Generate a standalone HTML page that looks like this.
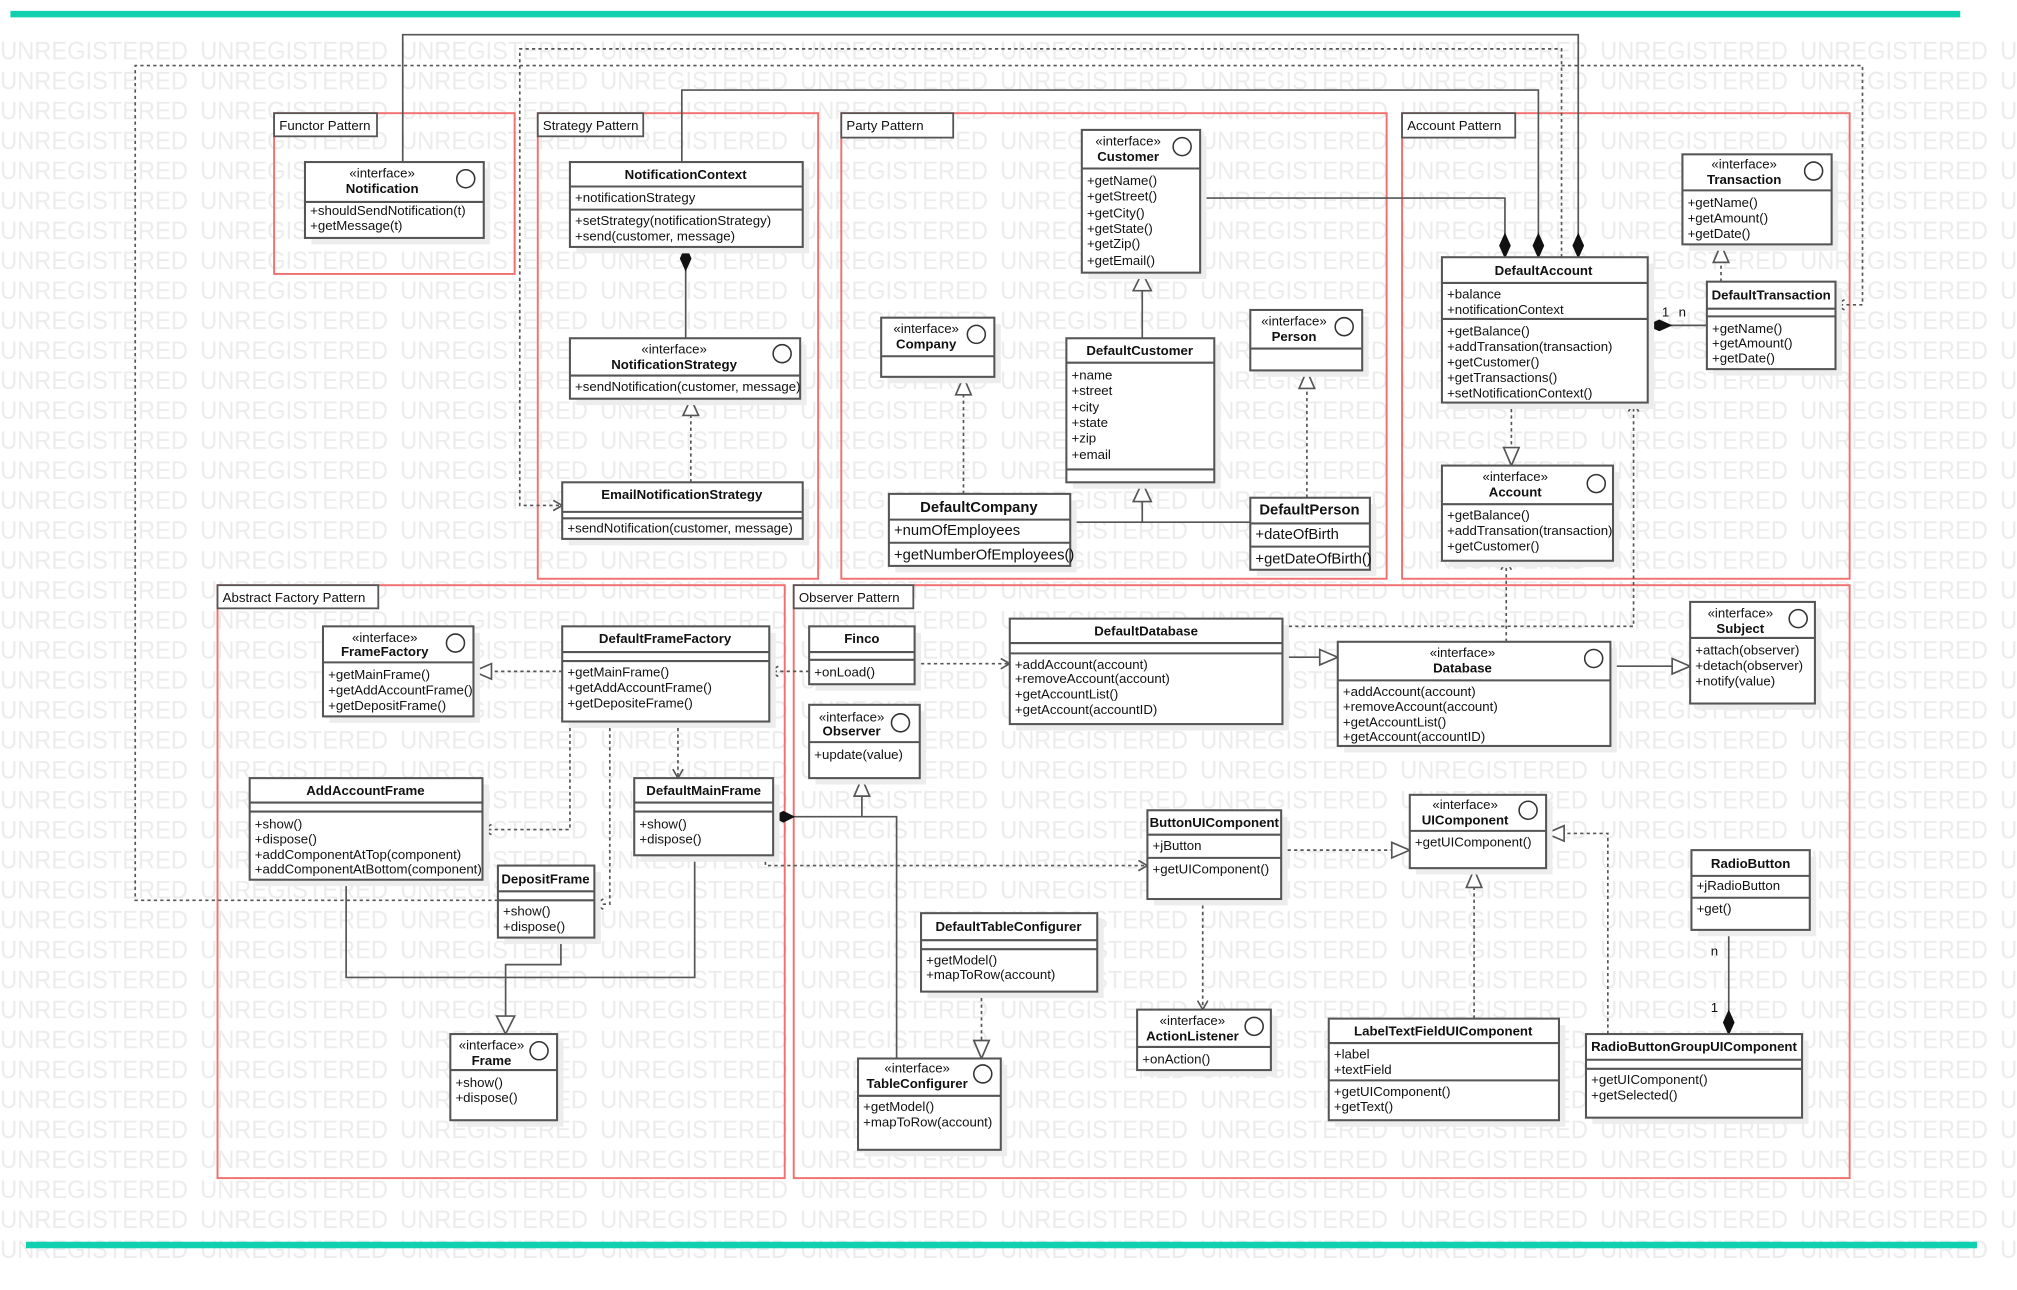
<!DOCTYPE html>
<html><head><meta charset="utf-8"><style>
html,body{margin:0;padding:0;background:#fff;}
svg{display:block;}
text{font-family:"Liberation Sans",sans-serif;font-size:10.3px;fill:#111;}
.b{font-weight:bold;}
.wm{font-size:19.5px;fill:#ececec;}
.box{fill:#fff;stroke:#555;stroke-width:1.6;}
.sh{fill:#ededed;}
.ln{stroke:#555;stroke-width:1.6;fill:none;}
.sl{stroke:#555;stroke-width:1.3;fill:none;}
.dl{stroke:#555;stroke-width:1.3;fill:none;stroke-dasharray:2.5,2.5;}
.fr{fill:none;stroke:#f07070;stroke-width:1.5;}
.lbl{fill:#fff;stroke:#555;stroke-width:1.4;}
.tri{fill:#fff;stroke:#555;stroke-width:1.3;}
.dia{fill:#111;stroke:#111;stroke-width:1;}
.circ{fill:#fff;stroke:#333;stroke-width:1.2;}
</style></head><body>
<svg width="2017" height="1290" viewBox="0 0 1568 1003" xmlns="http://www.w3.org/2000/svg">
<defs>
<pattern id="wm" x="0" y="24" width="155.5" height="23.3" patternUnits="userSpaceOnUse">
<text class="wm" x="0" y="22" textLength="146" lengthAdjust="spacingAndGlyphs">UNREGISTERED</text>
</pattern>
</defs>
<rect x="0" y="28" width="1568" height="952" fill="url(#wm)"/>
<line x1="8" y1="11" x2="1524" y2="11" stroke="#10d0b0" stroke-width="5"/>
<line x1="20" y1="968" x2="1537" y2="968" stroke="#10d0b0" stroke-width="5"/>

<!-- frames -->
<rect class="fr" x="213" y="88" width="187" height="125"/>
<rect class="lbl" x="213" y="88" width="80" height="18"/><text x="217" y="101">Functor Pattern</text>
<rect class="fr" x="418" y="88" width="218" height="362"/>
<rect class="lbl" x="418" y="88" width="82" height="18"/><text x="422" y="101">Strategy Pattern</text>
<rect class="fr" x="654" y="88" width="424" height="362"/>
<rect class="lbl" x="654" y="88" width="87" height="19"/><text x="658" y="101">Party Pattern</text>
<rect class="fr" x="1090" y="88" width="348" height="362"/>
<rect class="lbl" x="1090" y="88" width="88" height="19"/><text x="1094" y="101">Account Pattern</text>
<rect class="fr" x="169" y="455" width="441" height="461"/>
<rect class="lbl" x="169" y="455" width="125" height="18"/><text x="173" y="468">Abstract Factory Pattern</text>
<rect class="fr" x="617" y="455" width="821" height="461"/>
<rect class="lbl" x="617" y="455" width="93" height="18"/><text x="621" y="468">Observer Pattern</text>

<!-- connectors -->
<polyline class="sl" points="313,126 313,27 1227,27 1227,200"/>
<polyline class="sl" points="530,126 530,70 1196,70 1196,200"/>
<polyline class="sl" points="933,154 1170,154 1170,200"/>
<path class="dia" d="M1227,200 l-4,-9 l4,-9 l4,9z"/>
<path class="dia" d="M1196,200 l-4,-9 l4,-9 l4,9z"/>
<path class="dia" d="M1170,200 l-4,-9 l4,-9 l4,9z"/>
<polyline class="dl" points="1214,200 1214,38 404,38 404,393 437,393"/>
<path class="sl" d="M430,389 l7,4 l-7,4"/>
<polyline class="dl" points="387,700 105,700 105,51 1448,51 1448,237 1427,237"/>
<path class="sl" d="M1434,233 l-7,4 l7,4"/>
<line class="sl" x1="533" y1="192" x2="533" y2="263"/>
<path class="dia" d="M533,192 l-4,9 l4,9 l4,-9z"/>
<line class="dl" x1="537" y1="375" x2="537" y2="323"/>
<path class="tri" d="M537,310 l-6,13 h12z"/>
<line class="sl" x1="888" y1="263" x2="888" y2="226"/>
<path class="tri" d="M888,212 l-7,14 h14z"/>
<line class="dl" x1="749" y1="384" x2="749" y2="307"/>
<path class="tri" d="M749,293 l-6,14 h12z"/>
<line class="dl" x1="1016" y1="387" x2="1016" y2="302"/>
<path class="tri" d="M1016,288 l-6,14 h12z"/>
<polyline class="sl" points="832,406 972,406"/>
<line class="sl" x1="888" y1="406" x2="888" y2="390"/>
<path class="tri" d="M888,375 l-7,15 h14z"/>
<line class="dl" x1="1338" y1="219" x2="1338" y2="204"/>
<path class="tri" d="M1338,190 l-6,14 h12z"/>
<line class="sl" x1="1281" y1="253" x2="1327" y2="253"/>
<path class="dia" d="M1281,253 l9,-4 l9,4 l-9,4z"/>
<text x="1292" y="246">1</text><text x="1305" y="246">n</text>
<line class="dl" x1="1175" y1="313" x2="1175" y2="348"/>
<path class="tri" d="M1175,362 l-6,-14 h12z"/>
<polyline class="dl" points="997,487 1270,487 1270,313"/>
<path class="sl" d="M1266,320 l4,-7 l4,7"/>
<line class="dl" x1="1171" y1="499" x2="1171" y2="436"/>
<path class="sl" d="M1167,443 l4,-7 l4,7"/>
<line class="sl" x1="997" y1="511" x2="1026" y2="511"/>
<path class="tri" d="M1040,511 l-14,-6 v12z"/>
<line class="sl" x1="1252" y1="518" x2="1300" y2="518"/>
<path class="tri" d="M1314,518 l-14,-6 v12z"/>
<line class="dl" x1="437" y1="522" x2="382" y2="522"/>
<path class="tri" d="M368,522 l14,-6 v12z"/>
<line class="dl" x1="629" y1="522" x2="598" y2="522"/>
<path class="sl" d="M605,518 l-7,4 l7,4"/>
<line class="dl" x1="711" y1="516" x2="785" y2="516"/>
<path class="sl" d="M778,512 l7,4 l-7,4"/>
<line class="dl" x1="527" y1="561" x2="527" y2="605"/>
<path class="sl" d="M523,598 l4,7 l4,-7"/>
<polyline class="dl" points="443,561 443,645 375,645"/>
<path class="sl" d="M382,641 l-7,4 l7,4"/>
<polyline class="dl" points="474,561 474,703 462,703"/>
<path class="sl" d="M469,699 l-7,4 l7,4"/>
<polyline class="sl" points="601,635 697,635 697,823"/>
<path class="dia" d="M601,635 l8,-4 l8,4 l-8,4z"/>
<line class="sl" x1="670" y1="635" x2="670" y2="619"/>
<path class="tri" d="M670,605 l-6,14 h12z"/>
<polyline class="dl" points="595,665 595,673 892,673"/>
<path class="sl" d="M885,669 l7,4 l-7,4"/>
<polyline class="sl" points="269,684 269,760 540,760 540,665"/>
<polyline class="sl" points="436,729 436,750 393,750 393,790"/>
<path class="tri" d="M393,804 l-7,-14 h14z"/>
<line class="dl" x1="996" y1="661" x2="1082" y2="661"/>
<path class="tri" d="M1096,661 l-14,-6 v12z"/>
<line class="dl" x1="935" y1="699" x2="935" y2="785"/>
<path class="sl" d="M931,778 l4,7 l4,-7"/>
<line class="dl" x1="1146" y1="792" x2="1146" y2="690"/>
<path class="tri" d="M1146,676 l-6,14 h12z"/>
<polyline class="dl" points="1250,804 1250,648 1216,648"/>
<path class="tri" d="M1202,648 l14,-6 v12z"/>
<line class="sl" x1="1344" y1="723" x2="1344" y2="786"/>
<path class="dia" d="M1344,804 l-4,-9 l4,-9 l4,9z"/>
<text x="1330" y="743">n</text><text x="1330" y="787">1</text>
<line class="dl" x1="763" y1="771" x2="763" y2="809"/>
<path class="tri" d="M763,823 l-6,-14 h12z"/>

<!-- classes -->
<g>
<rect class="sh" x="242" y="131" width="139" height="59"/>
<rect class="box" x="237" y="126" width="139" height="59"/><line class="ln" x1="237" y1="157" x2="376" y2="157"/>
<text x="297" y="138" text-anchor="middle">«interface»</text><text class="b" x="297" y="150" text-anchor="middle">Notification</text>
<circle class="circ" cx="362" cy="139" r="7"/>
<text x="241" y="167">+shouldSendNotification(t)</text><text x="241" y="179">+getMessage(t)</text>
</g>
<g>
<rect class="sh" x="448" y="131" width="181" height="66"/>
<rect class="box" x="443" y="126" width="181" height="66"/>
<line class="ln" x1="443" y1="145" x2="624" y2="145"/><line class="ln" x1="443" y1="163" x2="624" y2="163"/>
<text class="b" x="533" y="139" text-anchor="middle">NotificationContext</text>
<text x="447" y="157">+notificationStrategy</text>
<text x="447" y="175">+setStrategy(notificationStrategy)</text><text x="447" y="187">+send(customer, message)</text>
</g>
<g>
<rect class="sh" x="448" y="268" width="179" height="47"/>
<rect class="box" x="443" y="263" width="179" height="47"/><line class="ln" x1="443" y1="292" x2="622" y2="292"/>
<text x="524" y="275" text-anchor="middle">«interface»</text><text class="b" x="524" y="287" text-anchor="middle">NotificationStrategy</text>
<circle class="circ" cx="608" cy="275" r="7"/>
<text x="447" y="304">+sendNotification(customer, message)</text>
</g>
<g>
<rect class="sh" x="442" y="380" width="187" height="44"/>
<rect class="box" x="437" y="375" width="187" height="44"/>
<line class="ln" x1="437" y1="398" x2="624" y2="398"/><line class="ln" x1="437" y1="403" x2="624" y2="403"/>
<text class="b" x="530" y="388" text-anchor="middle">EmailNotificationStrategy</text>
<text x="441" y="414">+sendNotification(customer, message)</text>
</g>
<g>
<rect class="sh" x="846" y="106" width="92" height="111"/>
<rect class="box" x="841" y="101" width="92" height="111"/><line class="ln" x1="841" y1="131" x2="933" y2="131"/>
<text x="877" y="113" text-anchor="middle">«interface»</text><text class="b" x="877" y="125" text-anchor="middle">Customer</text>
<circle class="circ" cx="919" cy="114" r="7"/>
<text x="845" y="144">+getName()</text><text x="845" y="156">+getStreet()</text><text x="845" y="169">+getCity()</text><text x="845" y="181">+getState()</text><text x="845" y="193">+getZip()</text><text x="845" y="206">+getEmail()</text>
</g>
<g>
<rect class="sh" x="690" y="252" width="88" height="46"/>
<rect class="box" x="685" y="247" width="88" height="46"/><line class="ln" x1="685" y1="277" x2="773" y2="277"/>
<text x="720" y="259" text-anchor="middle">«interface»</text><text class="b" x="720" y="271" text-anchor="middle">Company</text>
<circle class="circ" cx="759" cy="260" r="7"/>
</g>
<g>
<rect class="sh" x="834" y="268" width="115" height="112"/>
<rect class="box" x="829" y="263" width="115" height="112"/>
<line class="ln" x1="829" y1="282" x2="944" y2="282"/><line class="ln" x1="829" y1="365" x2="944" y2="365"/>
<text class="b" x="886" y="276" text-anchor="middle">DefaultCustomer</text>
<text x="833" y="295">+name</text><text x="833" y="307">+street</text><text x="833" y="320">+city</text><text x="833" y="332">+state</text><text x="833" y="344">+zip</text><text x="833" y="357">+email</text>
</g>
<g>
<rect class="sh" x="977" y="246" width="87" height="47"/>
<rect class="box" x="972" y="241" width="87" height="47"/><line class="ln" x1="972" y1="271" x2="1059" y2="271"/>
<text x="1006" y="253" text-anchor="middle">«interface»</text><text class="b" x="1006" y="265" text-anchor="middle">Person</text>
<circle class="circ" cx="1045" cy="254" r="7"/>
</g>
<g>
<rect class="sh" x="696" y="389" width="141" height="56"/>
<rect class="box" x="691" y="384" width="141" height="56"/>
<line class="ln" x1="691" y1="404" x2="832" y2="404"/><line class="ln" x1="691" y1="422" x2="832" y2="422"/>
<text class="b" x="761" y="398" text-anchor="middle" style="font-size:11.5px">DefaultCompany</text>
<text x="695" y="416" style="font-size:11.5px">+numOfEmployees</text><text x="695" y="435" style="font-size:11.5px">+getNumberOfEmployees()</text>
</g>
<g>
<rect class="sh" x="977" y="392" width="93" height="56"/>
<rect class="box" x="972" y="387" width="93" height="56"/>
<line class="ln" x1="972" y1="407" x2="1065" y2="407"/><line class="ln" x1="972" y1="425" x2="1065" y2="425"/>
<text class="b" x="1018" y="400" text-anchor="middle" style="font-size:11.5px">DefaultPerson</text>
<text x="976" y="419" style="font-size:11.5px">+dateOfBirth</text><text x="976" y="438" style="font-size:11.5px">+getDateOfBirth()</text>
</g>
<g>
<rect class="sh" x="1313" y="125" width="116" height="70"/>
<rect class="box" x="1308" y="120" width="116" height="70"/><line class="ln" x1="1308" y1="148" x2="1424" y2="148"/>
<text x="1356" y="131" text-anchor="middle">«interface»</text><text class="b" x="1356" y="143" text-anchor="middle">Transaction</text>
<circle class="circ" cx="1410" cy="133" r="7"/>
<text x="1312" y="161">+getName()</text><text x="1312" y="173">+getAmount()</text><text x="1312" y="185">+getDate()</text>
</g>
<g>
<rect class="sh" x="1126" y="205" width="160" height="113"/>
<rect class="box" x="1121" y="200" width="160" height="113"/>
<line class="ln" x1="1121" y1="220" x2="1281" y2="220"/><line class="ln" x1="1121" y1="248" x2="1281" y2="248"/>
<text class="b" x="1200" y="214" text-anchor="middle">DefaultAccount</text>
<text x="1125" y="232">+balance</text><text x="1125" y="244">+notificationContext</text>
<text x="1125" y="261">+getBalance()</text><text x="1125" y="273">+addTransation(transaction)</text><text x="1125" y="285">+getCustomer()</text><text x="1125" y="297">+getTransactions()</text><text x="1125" y="309">+setNotificationContext()</text>
</g>
<g>
<rect class="sh" x="1332" y="224" width="100" height="68"/>
<rect class="box" x="1327" y="219" width="100" height="68"/>
<line class="ln" x1="1327" y1="240" x2="1427" y2="240"/><line class="ln" x1="1327" y1="246" x2="1427" y2="246"/>
<text class="b" x="1377" y="233" text-anchor="middle">DefaultTransaction</text>
<text x="1331" y="259">+getName()</text><text x="1331" y="270">+getAmount()</text><text x="1331" y="282">+getDate()</text>
</g>
<g>
<rect class="sh" x="1126" y="367" width="133" height="74"/>
<rect class="box" x="1121" y="362" width="133" height="74"/><line class="ln" x1="1121" y1="392" x2="1254" y2="392"/>
<text x="1178" y="374" text-anchor="middle">«interface»</text><text class="b" x="1178" y="386" text-anchor="middle">Account</text>
<circle class="circ" cx="1241" cy="376" r="7"/>
<text x="1125" y="404">+getBalance()</text><text x="1125" y="416">+addTransation(transaction)</text><text x="1125" y="428">+getCustomer()</text>
</g>
<g>
<rect class="sh" x="256" y="492" width="117" height="70"/>
<rect class="box" x="251" y="487" width="117" height="70"/><line class="ln" x1="251" y1="515" x2="368" y2="515"/>
<text x="299" y="499" text-anchor="middle">«interface»</text><text class="b" x="299" y="510" text-anchor="middle">FrameFactory</text>
<circle class="circ" cx="354" cy="500" r="7"/>
<text x="255" y="528">+getMainFrame()</text><text x="255" y="540">+getAddAccountFrame()</text><text x="255" y="552">+getDepositFrame()</text>
</g>
<g>
<rect class="sh" x="442" y="492" width="161" height="74"/>
<rect class="box" x="437" y="487" width="161" height="74"/>
<line class="ln" x1="437" y1="507" x2="598" y2="507"/><line class="ln" x1="437" y1="514" x2="598" y2="514"/>
<text class="b" x="517" y="500" text-anchor="middle">DefaultFrameFactory</text>
<text x="441" y="526">+getMainFrame()</text><text x="441" y="538">+getAddAccountFrame()</text><text x="441" y="550">+getDepositeFrame()</text>
</g>
<g>
<rect class="sh" x="634" y="492" width="82" height="45"/>
<rect class="box" x="629" y="487" width="82" height="45"/>
<line class="ln" x1="629" y1="507" x2="711" y2="507"/><line class="ln" x1="629" y1="513" x2="711" y2="513"/>
<text class="b" x="670" y="500" text-anchor="middle">Finco</text>
<text x="633" y="526">+onLoad()</text>
</g>
<g>
<rect class="sh" x="634" y="553" width="86" height="57"/>
<rect class="box" x="629" y="548" width="86" height="57"/><line class="ln" x1="629" y1="577" x2="715" y2="577"/>
<text x="662" y="561" text-anchor="middle">«interface»</text><text class="b" x="662" y="572" text-anchor="middle">Observer</text>
<circle class="circ" cx="700" cy="562" r="7"/>
<text x="633" y="590">+update(value)</text>
</g>
<g>
<rect class="sh" x="790" y="486" width="212" height="82"/>
<rect class="box" x="785" y="481" width="212" height="82"/>
<line class="ln" x1="785" y1="500" x2="997" y2="500"/><line class="ln" x1="785" y1="508" x2="997" y2="508"/>
<text class="b" x="891" y="494" text-anchor="middle">DefaultDatabase</text>
<text x="789" y="520">+addAccount(account)</text><text x="789" y="531">+removeAccount(account)</text><text x="789" y="543">+getAccountList()</text><text x="789" y="555">+getAccount(accountID)</text>
</g>
<g>
<rect class="sh" x="1045" y="504" width="212" height="81"/>
<rect class="box" x="1040" y="499" width="212" height="81"/><line class="ln" x1="1040" y1="529" x2="1252" y2="529"/>
<text x="1137" y="511" text-anchor="middle">«interface»</text><text class="b" x="1137" y="523" text-anchor="middle">Database</text>
<circle class="circ" cx="1239" cy="512" r="7"/>
<text x="1044" y="541">+addAccount(account)</text><text x="1044" y="553">+removeAccount(account)</text><text x="1044" y="565">+getAccountList()</text><text x="1044" y="576">+getAccount(accountID)</text>
</g>
<g>
<rect class="sh" x="1319" y="473" width="97" height="79"/>
<rect class="box" x="1314" y="468" width="97" height="79"/><line class="ln" x1="1314" y1="496" x2="1411" y2="496"/>
<text x="1353" y="480" text-anchor="middle">«interface»</text><text class="b" x="1353" y="492" text-anchor="middle">Subject</text>
<circle class="circ" cx="1398" cy="481" r="7"/>
<text x="1318" y="509">+attach(observer)</text><text x="1318" y="521">+detach(observer)</text><text x="1318" y="533">+notify(value)</text>
</g>
<g>
<rect class="sh" x="199" y="610" width="181" height="79"/>
<rect class="box" x="194" y="605" width="181" height="79"/>
<line class="ln" x1="194" y1="624" x2="375" y2="624"/><line class="ln" x1="194" y1="631" x2="375" y2="631"/>
<text class="b" x="284" y="618" text-anchor="middle">AddAccountFrame</text>
<text x="198" y="644">+show()</text><text x="198" y="656">+dispose()</text><text x="198" y="668">+addComponentAtTop(component)</text><text x="198" y="679">+addComponentAtBottom(component)</text>
</g>
<g>
<rect class="sh" x="498" y="610" width="108" height="60"/>
<rect class="box" x="493" y="605" width="108" height="60"/>
<line class="ln" x1="493" y1="624" x2="601" y2="624"/><line class="ln" x1="493" y1="631" x2="601" y2="631"/>
<text class="b" x="547" y="618" text-anchor="middle">DefaultMainFrame</text>
<text x="497" y="644">+show()</text><text x="497" y="656">+dispose()</text>
</g>
<g>
<rect class="sh" x="392" y="678" width="75" height="56"/>
<rect class="box" x="387" y="673" width="75" height="56"/>
<line class="ln" x1="387" y1="693" x2="462" y2="693"/><line class="ln" x1="387" y1="700" x2="462" y2="700"/>
<text class="b" x="424" y="687" text-anchor="middle">DepositFrame</text>
<text x="391" y="712">+show()</text><text x="391" y="724">+dispose()</text>
</g>
<g>
<rect class="sh" x="897" y="635" width="104" height="69"/>
<rect class="box" x="892" y="630" width="104" height="69"/>
<line class="ln" x1="892" y1="649" x2="996" y2="649"/><line class="ln" x1="892" y1="667" x2="996" y2="667"/>
<text class="b" x="944" y="643" text-anchor="middle">ButtonUIComponent</text>
<text x="896" y="661">+jButton</text><text x="896" y="679">+getUIComponent()</text>
</g>
<g>
<rect class="sh" x="1101" y="623" width="106" height="57"/>
<rect class="box" x="1096" y="618" width="106" height="57"/><line class="ln" x1="1096" y1="646" x2="1202" y2="646"/>
<text x="1139" y="629" text-anchor="middle">«interface»</text><text class="b" x="1139" y="641" text-anchor="middle">UIComponent</text>
<circle class="circ" cx="1188" cy="630" r="7"/>
<text x="1100" y="658">+getUIComponent()</text>
</g>
<g>
<rect class="sh" x="1320" y="666" width="92" height="62"/>
<rect class="box" x="1315" y="661" width="92" height="62"/>
<line class="ln" x1="1315" y1="681" x2="1407" y2="681"/><line class="ln" x1="1315" y1="698" x2="1407" y2="698"/>
<text class="b" x="1361" y="675" text-anchor="middle">RadioButton</text>
<text x="1319" y="692">+jRadioButton</text><text x="1319" y="710">+get()</text>
</g>
<g>
<rect class="sh" x="721" y="715" width="137" height="61"/>
<rect class="box" x="716" y="710" width="137" height="61"/>
<line class="ln" x1="716" y1="731" x2="853" y2="731"/><line class="ln" x1="716" y1="738" x2="853" y2="738"/>
<text class="b" x="784" y="724" text-anchor="middle">DefaultTableConfigurer</text>
<text x="720" y="750">+getModel()</text><text x="720" y="761">+mapToRow(account)</text>
</g>
<g>
<rect class="sh" x="889" y="790" width="104" height="47"/>
<rect class="box" x="884" y="785" width="104" height="47"/><line class="ln" x1="884" y1="814" x2="988" y2="814"/>
<text x="927" y="797" text-anchor="middle">«interface»</text><text class="b" x="927" y="809" text-anchor="middle">ActionListener</text>
<circle class="circ" cx="975" cy="798" r="7"/>
<text x="888" y="827">+onAction()</text>
</g>
<g>
<rect class="sh" x="1038" y="797" width="179" height="79"/>
<rect class="box" x="1033" y="792" width="179" height="79"/>
<line class="ln" x1="1033" y1="811" x2="1212" y2="811"/><line class="ln" x1="1033" y1="840" x2="1212" y2="840"/>
<text class="b" x="1122" y="805" text-anchor="middle">LabelTextFieldUIComponent</text>
<text x="1037" y="823">+label</text><text x="1037" y="835">+textField</text>
<text x="1037" y="852">+getUIComponent()</text><text x="1037" y="864">+getText()</text>
</g>
<g>
<rect class="sh" x="1238" y="809" width="168" height="65"/>
<rect class="box" x="1233" y="804" width="168" height="65"/>
<line class="ln" x1="1233" y1="824" x2="1401" y2="824"/><line class="ln" x1="1233" y1="831" x2="1401" y2="831"/>
<text class="b" x="1317" y="817" text-anchor="middle">RadioButtonGroupUIComponent</text>
<text x="1237" y="843">+getUIComponent()</text><text x="1237" y="855">+getSelected()</text>
</g>
<g>
<rect class="sh" x="355" y="809" width="83" height="67"/>
<rect class="box" x="350" y="804" width="83" height="67"/><line class="ln" x1="350" y1="832" x2="433" y2="832"/>
<text x="382" y="816" text-anchor="middle">«interface»</text><text class="b" x="382" y="828" text-anchor="middle">Frame</text>
<circle class="circ" cx="419" cy="817" r="7"/>
<text x="354" y="845">+show()</text><text x="354" y="857">+dispose()</text>
</g>
<g>
<rect class="sh" x="672" y="828" width="111" height="71"/>
<rect class="box" x="667" y="823" width="111" height="71"/><line class="ln" x1="667" y1="852" x2="778" y2="852"/>
<text x="713" y="834" text-anchor="middle">«interface»</text><text class="b" x="713" y="846" text-anchor="middle">TableConfigurer</text>
<circle class="circ" cx="764" cy="835" r="7"/>
<text x="671" y="864">+getModel()</text><text x="671" y="876">+mapToRow(account)</text>
</g>
</svg>
</body></html>
